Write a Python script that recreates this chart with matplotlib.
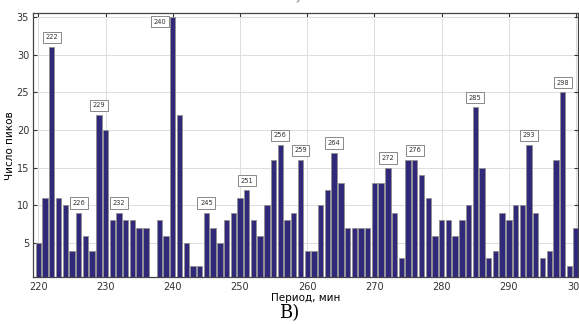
import numpy as np
import matplotlib
matplotlib.use("Agg")
import matplotlib.pyplot as plt

# Data
periods = list(range(220, 301))
counts = [5, 11, 31, 11, 10, 4, 9, 6, 4, 22,
          20, 8, 9, 8, 8, 7, 7, 0, 8, 6,
          35, 22, 5, 2, 2, 9, 7, 5, 8, 9,
          11, 12, 8, 6, 10, 16, 18, 8, 9, 16,
          4, 4, 10, 12, 17, 13, 7, 7, 7, 7,
          13, 13, 15, 9, 3, 16, 16, 14, 11, 6,
          8, 8, 6, 8, 10, 23, 15, 3, 4, 9,
          8, 10, 10, 18, 9, 3, 4, 16, 25, 2,
          7]
peak_periods = [222, 226, 229, 232, 240, 245, 251, 256, 259, 264, 272, 276, 285, 293, 298]

fig = plt.figure(figsize=(5.79, 3.24), dpi=100)
ax = fig.add_axes([0.0575, 0.144, 0.941, 0.815])

ax.bar(periods, counts, width=0.8, color='#30297a', edgecolor='#909090', linewidth=0.6, zorder=3)

# peak labels
for p in peak_periods:
    v = counts[p - 220]
    if p == 240:
        x, y = 238.1, 34.4
    else:
        x, y = p, v + 1.3
    ax.text(x, y, str(p), fontsize=4.8, ha='center', va='center', color='#333333',
            bbox=dict(boxstyle='square,pad=0.4', fc='white', ec='#888888', lw=0.7), zorder=4)

ax.set_xlim(219.25, 300.3)
ax.set_ylim(0.45, 35.5)
ax.set_xticks(range(220, 301, 10))
ax.set_yticks(range(5, 36, 5))
ax.grid(True, color='#dddddd', linewidth=0.7, zorder=0)
ax.tick_params(direction='in', length=3, width=0.8, labelsize=7, colors='#333333',
               top=True, right=True, pad=3)
for s in ax.spines.values():
    s.set_color('#444444')
    s.set_linewidth(0.9)

ax.set_xlabel('Период, мин', fontsize=7.5, labelpad=1)
ax.set_ylabel('Число пиков', fontsize=7.5, labelpad=1)

fig.text(0.5, 0.035, 'В)', fontsize=13, family='DejaVu Serif', ha='center', va='center')
fig.text(0.508, 1.015, 'г)', fontsize=13, family='DejaVu Serif', ha='center', va='center', color='#888888')

fig.savefig('out.png', dpi=100)
